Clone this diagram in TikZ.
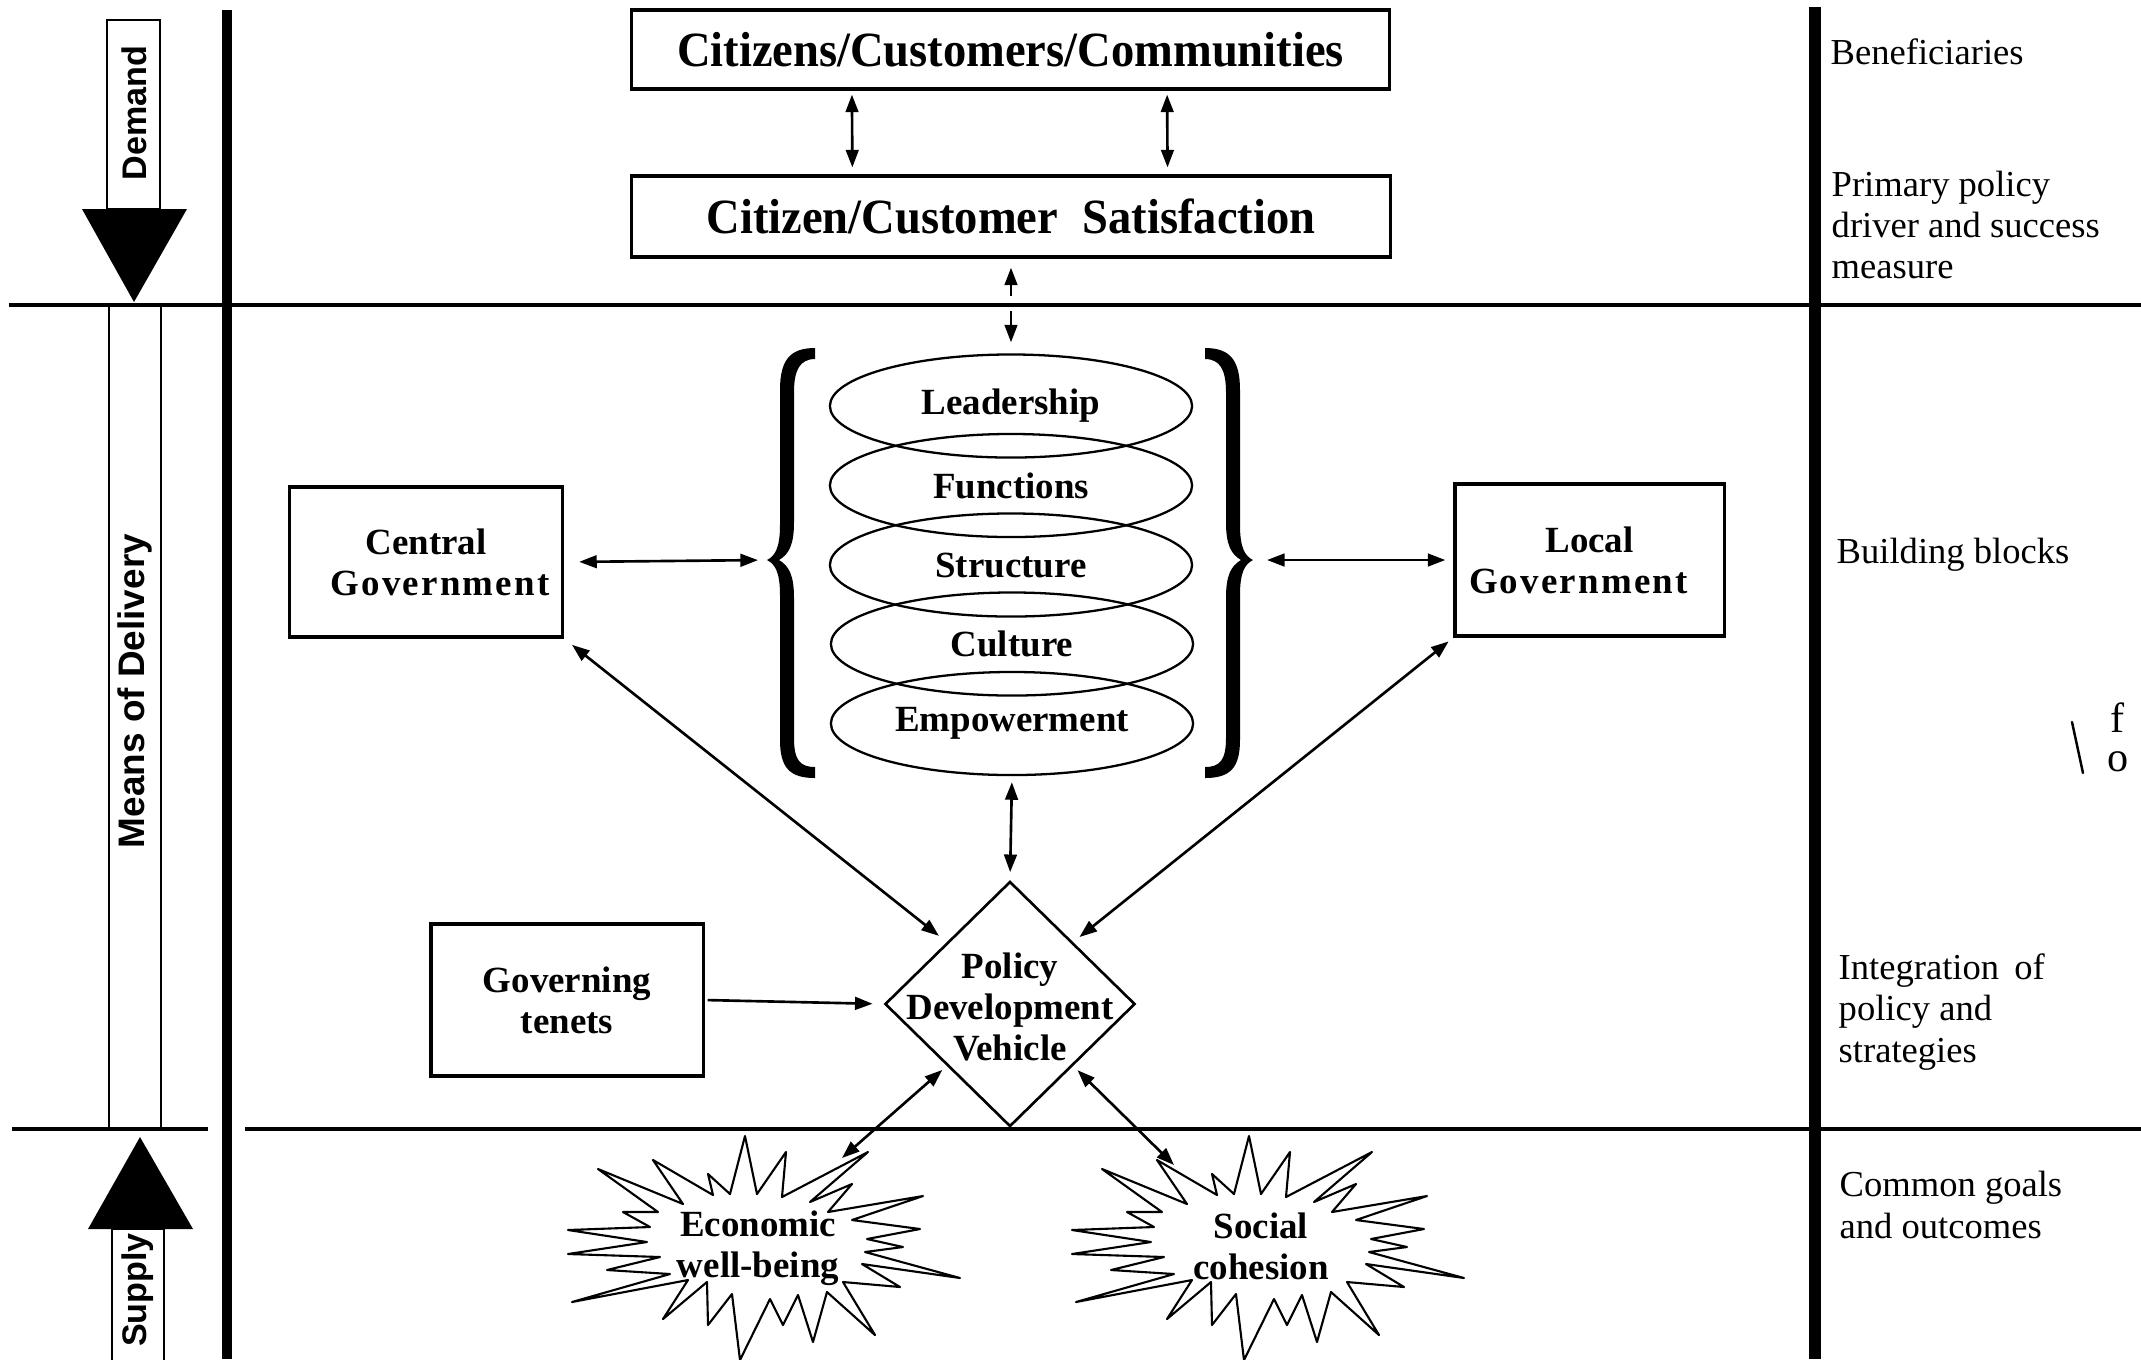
\documentclass[tikz,border=0pt]{standalone}
\usepackage{fontspec}
\setmainfont{Liberation Serif}
\newfontfamily\labelsans{Liberation Sans}
\newfontfamily\headserif[FakeStretch=0.945]{Liberation Serif}
\usetikzlibrary{arrows.meta,shapes.geometric}
\newcommand\spaced[1]{{\addfontfeatures{LetterSpace=6}#1}}

\tikzset{
  rule/.style={line width=0.9pt},
  arr/.style={line width=0.75pt,{Triangle[length=5pt,width=3.6pt]}-{Triangle[length=5pt,width=3.6pt]}},
  arrone/.style={line width=0.75pt,-{Triangle[length=5pt,width=3.6pt]}},
  box/.style={draw,line width=0.9pt,inner sep=0pt,align=center},
  headtext/.style={font=\headserif\fontsize{14}{16}\selectfont\bfseries},
  blocktext/.style={font=\fontsize{10.5}{11.7}\selectfont\bfseries,align=center},
  ring/.style={draw,ellipse,line width=0.65pt,minimum width=3.62cm,minimum height=1.03cm,inner sep=0pt,blocktext},
  sidetext/.style={font=\fontsize{10.4}{11.7}\selectfont,align=left,anchor=west,inner sep=0pt},
  axistext/.style={font=\labelsans\bfseries\fontsize{9.7}{11}\selectfont,rotate=90,inner sep=0pt},
  flowbar/.style={line width=0.6pt},
  bracket/.pic={
    \fill (815,348) .. controls (790,348) and (780,360) .. (780,390) -- (780,525)
      .. controls (780,548) and (775,556) .. (767,560)
      .. controls (775,564) and (780,572) .. (780,595) -- (780,740)
      .. controls (780,768) and (790,778) .. (815,778) -- (815,767)
      .. controls (800,767) and (794,760) .. (794,738) -- (794,598)
      .. controls (794,575) and (789,566) .. (779,560)
      .. controls (789,554) and (794,545) .. (794,522) -- (794,392)
      .. controls (794,370) and (800,359) .. (815,359) -- cycle;
  },
  burst/.pic={
    \draw[fill=white,line width=0.6pt,line join=round]
      (-15,-111) -- (-3,-53) -- (26,-95) -- (22,-50) -- (108,-95) -- (50,-45)
      -- (92,-63) -- (68,-35) -- (163,-51) -- (92,-27) -- (160,-18) -- (107,-8)
      -- (143,0) -- (105,5) -- (200,31) -- (102,17) -- (140,40) -- (83,35)
      -- (115,88) -- (67,45) -- (53,95) -- (38,48) -- (23,78) -- (10,52)
      -- (-20,113) -- (-28,47) -- (-52,78) -- (-53,35) -- (-97,72) -- (-72,33)
      -- (-188,55) -- (-90,27) -- (-153,23) -- (-100,10) -- (-192,7) -- (-113,-5)
      -- (-192,-17) -- (-110,-20) -- (-137,-35) -- (-102,-35) -- (-162,-78)
      -- (-77,-43) -- (-107,-87) -- (-47,-52) -- (-52,-73) -- (-30,-53) -- cycle;
  }
}

\begin{document}
\begin{tikzpicture}[x=0.01cm,y=-0.01cm]
\useasboundingbox (0,0) rectangle (2141,1359);

% ---- left-hand flow markers ----
\draw[flowbar] (107,20) rectangle (160,209);
\fill (82,209) -- (187,209) -- (134,302) -- cycle;
\node[axistext] (demand) at (134,113) {Demand};

\draw[flowbar] (109,305) rectangle (161,1129);
\node[axistext,font=\labelsans\bfseries\fontsize{10.5}{12}\selectfont] (delivery) at (135,691) {Means of Delivery};

\draw[flowbar] (112,1229) rectangle (164,1370);
\fill (88,1229) -- (193,1229) -- (140,1137) -- cycle;
\node[axistext] (supply) at (138,1290) {Supply};

% ---- demand level ----
\node[box,headtext,minimum width=7.57cm,minimum height=0.79cm] (cit) at (1010.5,49.5) {Citizens/Customers/Communities};
\node[box,headtext,minimum width=7.58cm,minimum height=0.81cm] (sat) at (1011,216.5) {Citizen/Customer\hskip 7pt Satisfaction};

\draw[arr,shorten <=0.04cm,shorten >=0.07cm] ([xshift=-1.585cm]cit.south) -- ([xshift=-1.585cm]sat.north);
\draw[arr,shorten <=0.04cm,shorten >=0.07cm] ([xshift=1.565cm]cit.south) -- ([xshift=1.565cm]sat.north);

% ---- building blocks ----
\node[ring] (lead)  at (1011,406)   {Leadership};
\node[ring] (func)  at (1011,485.5) {Functions};
\node[ring] (struc) at (1011,565)   {Structure};
\node[ring] (cult)  at (1012,644)   {Culture};
\node[ring] (empw)  at (1012,723.5) {Empowerment};

\pic at (0,0) {bracket};
\pic[xscale=-1] at (2020,0) {bracket};
\coordinate (lbrace) at (767,560);
\coordinate (rbrace) at (1253,560);

\draw[arr,shorten <=0.09cm,shorten >=0.11cm] (sat.south) -- (lead.north);
\fill[white] (1004,296) rectangle (1019,311);

\node[box,blocktext,minimum width=2.73cm,minimum height=1.5cm] (cgov) at (426,562) {Central\\\hspace*{0.28cm}\spaced{Government}};
\node[box,blocktext,minimum width=2.69cm,minimum height=1.52cm] (lgov) at (1589.5,560) {Local\\\spaced{Government}\hspace*{0.22cm}};
\node[box,blocktext,minimum width=2.72cm,minimum height=1.52cm] (gov) at (567,1000) {Governing\\tenets};

\draw[arr,shorten <=0.15cm,shorten >=0.09cm] (cgov.east) -- (lbrace);
\draw[arr,shorten <=0.14cm,shorten >=0.08cm] (rbrace) -- (lgov.west);

% ---- policy vehicle ----
\node[draw,diamond,line width=0.75pt,minimum width=2.5cm,minimum height=2.45cm,inner sep=0pt] (pdv) at (1010,1004) {};
\node[blocktext,inner sep=0pt] (pdvtext) at (1010,1007) {Policy\\Development\\Vehicle};

\draw[arr,shorten <=0.06cm,shorten >=0.08cm] (empw.south) -- (pdv.north);
\draw[arr,shorten <=0.1cm,shorten >=0.1cm] (cgov.south east) -- (pdv.north west);
\draw[arr,shorten <=0.06cm,shorten >=0.08cm] (lgov.south west) -- (pdv.north east);
\draw[arrone,shorten <=0.03cm,shorten >=0.11cm] (gov.east) -- (pdv.west);

% ---- supply level ----
\pic at (760,1247) {burst};
\pic at (1264,1247) {burst};
\node[blocktext,inner sep=0pt] (econ) at (758,1248) {Economic\\well-being};
\node[blocktext,inner sep=0pt] (soc) at (1261,1246) {Social\\cohesion};
\coordinate (econtip) at (842,1158);
\coordinate (soctip) at (1174,1165);
\draw[arr,shorten <=0.06cm] (pdv.south west) -- (econtip);
\draw[arr,shorten <=0.06cm] (pdv.south east) -- (soctip);

% ---- section rules and posts ----
\draw[rule] (9,305) -- (2141,305);
\draw[rule] (12,1129) -- (208,1129);
\draw[rule] (245,1129) -- (2141,1129);
\draw[line width=2.6pt] (227,10) -- (227,1359);
\draw[line width=3.4pt] (1815,7) -- (1815,1359);

% ---- right-hand notes ----
\node[sidetext] (benef) at (1830,52) {Beneficiaries};
\node[sidetext] (driver) at (1831,225) {Primary policy\\driver and success\\measure};
\node[sidetext] (blocks) at (1836,555) {Building blocks};
\node[sidetext] (integ) at (1838,1012) {Integration\, of\\policy and\\strategies};
\node[sidetext] (goals) at (1839,1205) {Common goals\\and outcomes};

% ---- margin note ----
\draw[line width=0.7pt,line cap=round] (2072,722) -- (2083,773);
\node[font=\fontsize{12}{11}\selectfont,align=center,inner sep=0pt] (note) at (2118,737) {f\\o};
\end{tikzpicture}
\end{document}
